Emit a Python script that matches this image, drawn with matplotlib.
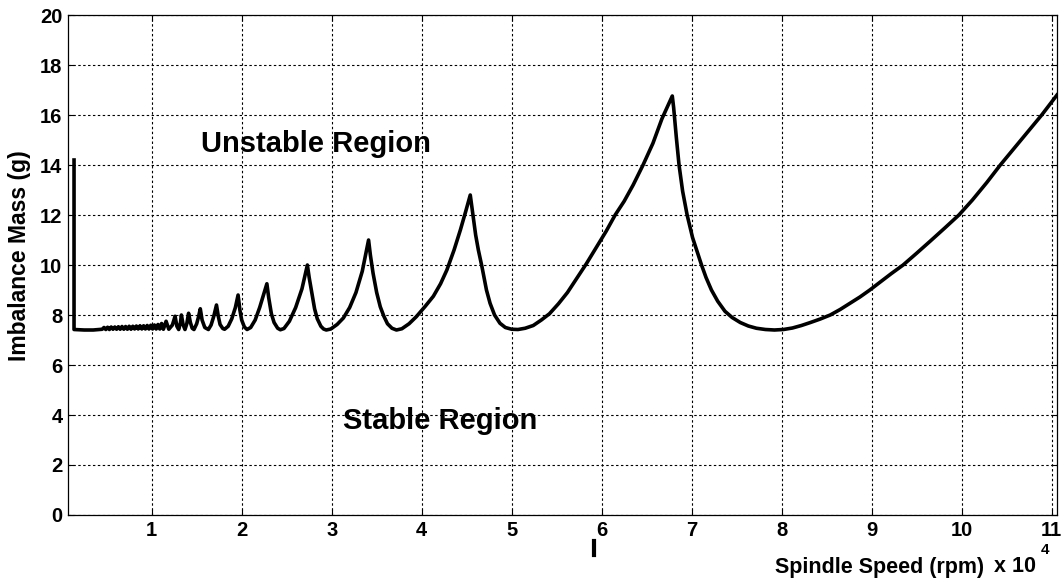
import matplotlib

matplotlib.use("Agg")
import matplotlib.pyplot as plt
from matplotlib.lines import Line2D

# spindle speed (x 10^4 rpm) and critical imbalance mass (g)
speed = [
    0.137, 0.137, 0.25, 0.35,
    0.45, 0.47, 0.49, 0.51, 0.53, 0.55, 0.57, 0.59, 0.61, 0.63, 0.65, 0.67,
    0.69, 0.71, 0.73, 0.75, 0.77, 0.79, 0.81, 0.83, 0.85, 0.87, 0.89, 0.91,
    0.93, 0.95, 0.97, 0.99, 1.01, 1.03, 1.05, 1.07, 1.09, 1.11, 1.13, 1.16,
    1.19, 1.23, 1.26, 1.28, 1.30, 1.32, 1.33, 1.35, 1.37, 1.39, 1.41, 1.43,
    1.45, 1.47, 1.50, 1.52, 1.54, 1.56, 1.59, 1.63, 1.66, 1.69, 1.72, 1.74,
    1.76, 1.79, 1.81, 1.85, 1.89, 1.93, 1.96, 1.98, 2.00, 2.03, 2.06,
    2.10, 2.15, 2.20, 2.25, 2.28, 2.30, 2.33, 2.36, 2.40, 2.43,
    2.47, 2.53, 2.60, 2.67, 2.73, 2.75, 2.78, 2.81, 2.84, 2.88, 2.91, 2.94,
    2.99, 3.06, 3.13, 3.20, 3.27, 3.34, 3.41, 3.43, 3.46, 3.50, 3.54, 3.58,
    3.62, 3.67, 3.72,
    3.78, 3.86, 3.94, 4.04, 4.13, 4.21, 4.28, 4.36, 4.43, 4.49, 4.54, 4.57,
    4.60, 4.63, 4.67, 4.72, 4.76, 4.81, 4.87, 4.93, 5.00, 5.07,
    5.15, 5.24, 5.33, 5.42, 5.52, 5.62, 5.72, 5.83, 5.94, 6.05, 6.15, 6.25,
    6.35, 6.46, 6.57, 6.67, 6.785,
    6.80, 6.83, 6.86, 6.90, 6.95, 7.01, 7.06, 7.11, 7.16, 7.22, 7.29, 7.37,
    7.45, 7.54, 7.63, 7.72, 7.82, 7.92,
    8.02, 8.12, 8.22, 8.32, 8.43, 8.54, 8.65, 8.76, 8.87, 8.98, 9.10, 9.22,
    9.35, 9.50, 9.65, 9.81, 9.97, 10.12, 10.28, 10.43, 10.58, 10.73, 10.89,
    11.06,
]
mass = [
    14.2, 7.42, 7.40, 7.40,
    7.43, 7.50, 7.42, 7.51, 7.42, 7.52, 7.43, 7.52, 7.43, 7.53, 7.43, 7.54,
    7.43, 7.54, 7.43, 7.55, 7.43, 7.55, 7.44, 7.56, 7.44, 7.57, 7.44, 7.57,
    7.44, 7.58, 7.44, 7.59, 7.44, 7.60, 7.44, 7.62, 7.44, 7.66, 7.43, 7.75,
    7.43, 7.60, 7.95, 7.55, 7.42, 7.70, 8.00, 7.60, 7.42, 7.65, 8.07, 7.70,
    7.47, 7.42, 7.65, 7.92, 8.25, 7.80, 7.50, 7.42, 7.60, 7.95, 8.40, 7.95,
    7.62, 7.46, 7.43, 7.55, 7.85, 8.30, 8.80, 8.20, 7.80, 7.52, 7.42,
    7.50, 7.80, 8.30, 8.90, 9.25, 8.70, 8.05, 7.70, 7.47, 7.41,
    7.46, 7.75, 8.30, 9.05, 10.00, 9.50, 8.87, 8.25, 7.85, 7.55, 7.44, 7.40,
    7.44, 7.62, 7.88, 8.30, 8.90, 9.75, 11.00, 10.40, 9.67, 8.90, 8.33, 7.95,
    7.65, 7.47, 7.40,
    7.45, 7.65, 7.93, 8.35, 8.75, 9.25, 9.80, 10.60, 11.40, 12.15, 12.80, 12.00,
    11.20, 10.60, 9.93, 9.00, 8.47, 8.00, 7.67, 7.50, 7.43, 7.42,
    7.47, 7.58, 7.80, 8.05, 8.45, 8.90, 9.45, 10.05, 10.70, 11.35, 12.00, 12.55,
    13.20, 14.00, 14.87, 15.85, 16.76,
    16.30, 15.10, 14.00, 12.95, 12.00, 11.10, 10.55, 10.00, 9.50, 9.00, 8.55, 8.15,
    7.90, 7.70, 7.56, 7.47, 7.42, 7.40,
    7.42, 7.48, 7.58, 7.70, 7.84, 8.00, 8.22, 8.47, 8.72, 9.00, 9.33, 9.66,
    10.00, 10.47, 10.95, 11.47, 12.00, 12.60, 13.30, 14.00, 14.65, 15.30, 16.00,
    16.80,
]

x_ticks = [1, 2, 3, 4, 5, 6, 7, 8, 9, 10, 11]
y_ticks = [0, 2, 4, 6, 8, 10, 12, 14, 16, 18, 20]


def main():
    plt.rcParams["font.family"] = ["Liberation Sans", "DejaVu Sans"]
    plt.rcParams["font.weight"] = "bold"

    fig = plt.figure(figsize=(10.62, 5.8), dpi=100)
    axis = fig.add_axes([68 / 1062, 1 - 515 / 580, 989 / 1062, 500 / 580])

    axis.plot(speed, mass, color="black", linewidth=2.6, solid_joinstyle="round")

    axis.set_xlim(0.07, 11.06)
    axis.set_ylim(0, 20)
    axis.set_xticks(x_ticks)
    axis.set_yticks(y_ticks)
    axis.tick_params(direction="in", length=4, width=0.8, labelsize=14.5,
                     top=True, right=True)
    axis.tick_params(axis="x", pad=4)
    axis.tick_params(axis="y", pad=4)
    for lab in axis.get_xticklabels() + axis.get_yticklabels():
        lab.set_fontweight("bold")
    axis.grid(True, color="black", linestyle=(0, (2.2, 2.2)), linewidth=0.8)
    for spine in axis.spines.values():
        spine.set_linewidth(0.9)

    axis.text(2.83, 14.84, "Unstable Region", fontsize=21, fontweight="bold",
              ha="center", va="center")
    axis.text(4.2, 3.76, "Stable Region", fontsize=21, fontweight="bold",
              ha="center", va="center")

    fig.text(20 / 1062, 1 - 256 / 580, "Imbalance Mass (g)", rotation=90,
             fontsize=16.5, fontweight="bold", ha="center", va="center")
    fig.text(984 / 1062, 1 - 567 / 580, "Spindle Speed (rpm)", fontsize=15.5,
             fontweight="bold", ha="right", va="center")
    fig.text(994 / 1062, 1 - 567 / 580, "x 10", fontsize=15.5,
             fontweight="bold", ha="left", va="center")
    fig.text(1041 / 1062, 1 - 550 / 580, "4", fontsize=11,
             fontweight="bold", ha="left", va="center")

    # small stray mark below the axis
    fig.add_artist(Line2D([594 / 1062, 594 / 1062], [1 - 541 / 580, 1 - 555 / 580],
                          color="black", linewidth=3))

    fig.savefig("out.png", dpi=100)


if __name__ == "__main__":
    main()
